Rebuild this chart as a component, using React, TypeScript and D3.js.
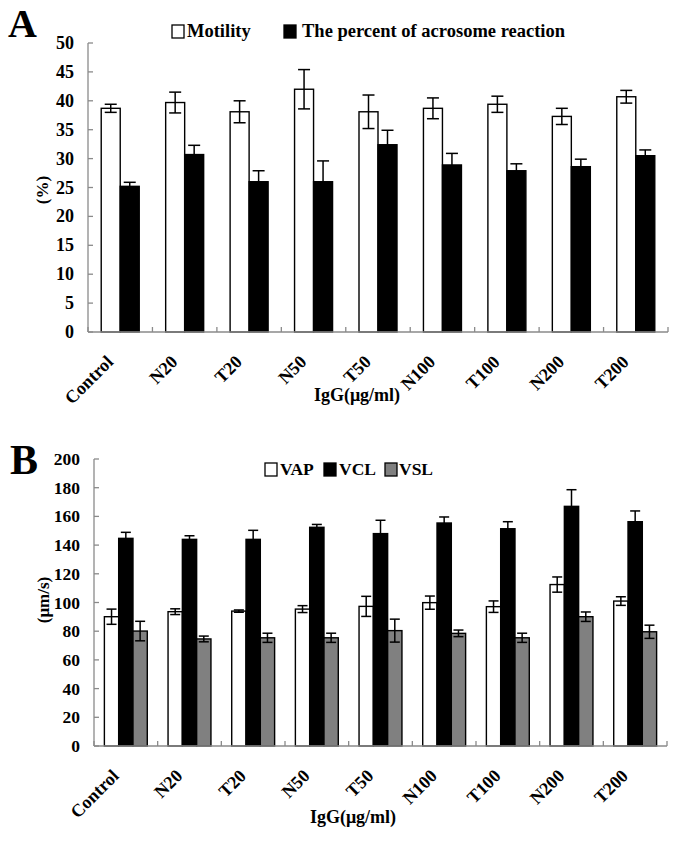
import React from "react";
import * as d3 from "d3";

const categories = ["Control", "N20", "T20", "N50", "T50", "N100", "T100", "N200", "T200"];

// Panel A
const motility = [38.7, 39.7, 38.1, 42.0, 38.1, 38.7, 39.4, 37.3, 40.7];
const motilityErr = [0.7, 1.8, 1.9, 3.4, 2.9, 1.8, 1.4, 1.4, 1.1];
const acrosome = [25.2, 30.7, 26.0, 26.0, 32.4, 28.9, 27.9, 28.6, 30.5];
const acrosomeErr = [0.7, 1.6, 1.9, 3.6, 2.5, 2.0, 1.2, 1.3, 1.0];
const ticksA = [0, 5, 10, 15, 20, 25, 30, 35, 40, 45, 50];

// Panel B
const vap = [90.1, 93.6, 94.0, 95.4, 97.3, 99.9, 97.1, 112.5, 101.0];
const vapErr = [5.3, 2.0, 0.8, 2.4, 7.0, 4.6, 4.0, 5.3, 3.0];
const vcl = [144.7, 144.0, 144.0, 152.4, 148.0, 155.4, 151.4, 167.0, 156.3];
const vclErr = [4.2, 2.5, 6.3, 2.0, 9.3, 4.2, 4.9, 11.6, 7.5];
const vsl = [80.1, 74.6, 75.4, 75.4, 80.4, 78.5, 75.4, 90.1, 79.6];
const vslErr = [6.8, 2.0, 3.2, 3.2, 8.0, 2.3, 3.2, 3.3, 4.6];
const ticksB = [0, 20, 40, 60, 80, 100, 120, 140, 160, 180, 200];

const FONT = "'Liberation Serif', 'Times New Roman', serif";
const AXIS = "#8a8a8a";

type Series = { name: string; values: number[]; errs: number[]; fill: string };

function Panel(props: {
  letter: string;
  letterX: number;
  letterY: number;
  letterSize: number;
  x0: number;
  x1: number;
  yTop: number;
  yBottom: number;
  max: number;
  ticks: number[];
  series: Series[];
  barW: number;
  capW: number;
  yLabel: string;
  yLabelX: number;
  yLabelY: number;
  titleX: number;
  titleY: number;
  legend: { x: number; textX: number }[];
  legendY: number;
  legendSize: number;
  tickSize: number;
}) {
  const p = props;
  const x = d3.scaleBand<string>().domain(categories).range([p.x0, p.x1]).padding(0);
  const y = d3.scaleLinear().domain([0, p.max]).range([p.yBottom, p.yTop]);
  const n = p.series.length;
  const inner = d3
    .scaleBand<number>()
    .domain(d3.range(n))
    .range([0, p.barW * n]);
  const groupOffset = (x.bandwidth() - p.barW * n) / 2;
  const boundaries = d3.range(categories.length + 1).map((i) => p.x0 + i * x.bandwidth());

  return (
    <g>
      <text x={p.letterX} y={p.letterY} fontFamily={FONT} fontWeight="bold" fontSize={p.letterSize}>
        {p.letter}
      </text>
      {/* legend */}
      {p.series.map((s, i) => (
        <g key={s.name}>
          <rect
            x={p.legend[i].x}
            y={p.legendY - 6}
            width={12}
            height={13}
            fill={s.fill}
            stroke="#000"
            strokeWidth={1.3}
          />
          <text
            x={p.legend[i].textX}
            y={p.legendY + 6}
            fontFamily={FONT}
            fontWeight="bold"
            fontSize={p.legendSize}
          >
            {s.name}
          </text>
        </g>
      ))}
      {/* bars */}
      {categories.map((c, ci) =>
        p.series.map((s, si) => {
          const bx = (x(c) as number) + groupOffset + (inner(si) as number);
          const v = s.values[ci];
          return (
            <rect
              key={c + si}
              x={bx}
              y={y(v)}
              width={inner.bandwidth()}
              height={y(0) - y(v)}
              fill={s.fill}
              stroke="#000"
              strokeWidth={1.4}
            />
          );
        })
      )}
      {/* error bars */}
      {categories.map((c, ci) =>
        p.series.map((s, si) => {
          const cx = (x(c) as number) + groupOffset + (inner(si) as number) + inner.bandwidth() / 2;
          const v = s.values[ci];
          const e = s.errs[ci];
          return (
            <g key={"e" + c + si} stroke="#000" strokeWidth={1.5}>
              <line x1={cx} x2={cx} y1={y(v - e)} y2={y(v + e)} />
              <line x1={cx - p.capW / 2} x2={cx + p.capW / 2} y1={y(v + e)} y2={y(v + e)} />
              <line x1={cx - p.capW / 2} x2={cx + p.capW / 2} y1={y(v - e)} y2={y(v - e)} />
            </g>
          );
        })
      )}
      {/* y axis */}
      <line x1={p.x0} x2={p.x0} y1={y(p.max)} y2={y(0)} stroke={AXIS} strokeWidth={1.3} />
      {p.ticks.map((t) => (
        <g key={"t" + t}>
          <line x1={p.x0} x2={p.x0 + 5} y1={y(t)} y2={y(t)} stroke={AXIS} strokeWidth={1.3} />
          <text
            x={p.x0 - 14}
            y={y(t) + 6}
            textAnchor="end"
            fontFamily={FONT}
            fontWeight="bold"
            fontSize={p.tickSize}
          >
            {t}
          </text>
        </g>
      ))}
      {/* x axis */}
      <line x1={p.x0} x2={p.x1} y1={y(0)} y2={y(0)} stroke={AXIS} strokeWidth={1.3} />
      {boundaries.map((bx, i) => (
        <line key={"b" + i} x1={bx} x2={bx} y1={y(0)} y2={y(0) - 5} stroke={AXIS} strokeWidth={1.3} />
      ))}
      {categories.map((c) => {
        const ax = (x(c) as number) + x.bandwidth() / 2 - 6;
        const ay = y(0) + 31;
        return (
          <text
            key={"l" + c}
            x={ax}
            y={ay}
            textAnchor="end"
            transform={`rotate(-45 ${ax} ${ay})`}
            fontFamily={FONT}
            fontWeight="bold"
            fontSize={18}
          >
            {c}
          </text>
        );
      })}
      <text
        x={p.titleX}
        y={p.titleY}
        textAnchor="middle"
        fontFamily={FONT}
        fontWeight="bold"
        fontSize={18}
      >
        IgG(μg/ml)
      </text>
      <text
        x={p.yLabelX}
        y={p.yLabelY}
        textAnchor="middle"
        transform={`rotate(-90 ${p.yLabelX} ${p.yLabelY})`}
        fontFamily={FONT}
        fontWeight="bold"
        fontSize={17}
      >
        {p.yLabel}
      </text>
    </g>
  );
}

export default function App() {
  const seriesA: Series[] = [
    { name: "Motility", values: motility, errs: motilityErr, fill: "#ffffff" },
    { name: "The percent of acrosome reaction", values: acrosome, errs: acrosomeErr, fill: "#000000" },
  ];
  const seriesB: Series[] = [
    { name: "VAP", values: vap, errs: vapErr, fill: "#ffffff" },
    { name: "VCL", values: vcl, errs: vclErr, fill: "#000000" },
    { name: "VSL", values: vsl, errs: vslErr, fill: "#808080" },
  ];
  return (
    <svg
      width={685}
      height={844}
      style={{ position: "absolute", left: 0, top: 0, background: "#fff" }}
    >
      <rect width={685} height={844} fill="#fff" />
      <Panel
        letter="A"
        letterX={8}
        letterY={37}
        letterSize={40}
        x0={88}
        x1={668}
        yTop={43}
        yBottom={332}
        max={50}
        ticks={ticksA}
        series={seriesA}
        barW={19}
        capW={12}
        yLabel="(%)"
        yLabelX={48}
        yLabelY={190}
        titleX={357}
        titleY={401}
        legend={[
          { x: 172, textX: 187 },
          { x: 284, textX: 302 },
        ]}
        legendY={31}
        legendSize={18.5}
        tickSize={18}
      />
      <Panel
        letter="B"
        letterX={10}
        letterY={474}
        letterSize={42}
        x0={94}
        x1={667}
        yTop={459}
        yBottom={746}
        max={200}
        ticks={ticksB}
        series={seriesB}
        barW={14.3}
        capW={10}
        yLabel="(μm/s)"
        yLabelX={49}
        yLabelY={600}
        titleX={353}
        titleY={823}
        legend={[
          { x: 265, textX: 280 },
          { x: 324, textX: 339 },
          { x: 385, textX: 399 },
        ]}
        legendY={469}
        legendSize={17.5}
        tickSize={17.5}
      />
    </svg>
  );
}
